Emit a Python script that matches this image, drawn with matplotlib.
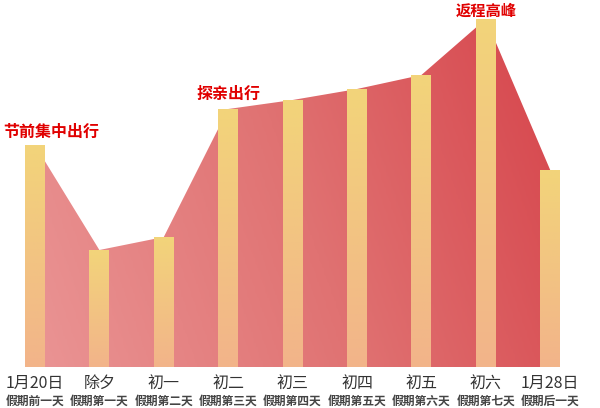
import matplotlib.pyplot as plt
import numpy as np
from matplotlib.colors import LinearSegmentedColormap

plt.rcParams['font.family'] = ['Noto Sans CJK SC', 'DejaVu Sans']

days = ['1月20日', '除夕', '初一', '初二', '初三', '初四', '初五', '初六', '1月28日']
notes = ['假期前一天', '假期第一天', '假期第二天', '假期第三天', '假期第四天',
         '假期第五天', '假期第六天', '假期第七天', '假期后一天']
values = [222, 117, 130, 258, 267, 278, 292, 348, 197]
callouts = {0: '节前集中出行', 3: '探亲出行', 7: '返程高峰'}

x = np.arange(len(days))
fig = plt.figure(figsize=(6, 4.08), dpi=100)
ax = fig.add_axes([0, 41 / 408, 1, 367 / 408])
ax.axis('off')

# area with gradient, clipped to the line's fill
poly = ax.fill_between(x, values, 0, color='none', lw=0)
area_cmap = LinearSegmentedColormap.from_list('area', ['#ea9494', '#e07272', '#d6444b'])
gx, gy = np.meshgrid(np.linspace(0, 1, 300), np.linspace(0, 1, 100))
grad = 0.8 * gx + 0.2 * (1 - gy)
im = ax.imshow(grad, cmap=area_cmap, extent=[x[0], x[-1], 0, 367],
               origin='upper', aspect='auto', zorder=1)
im.set_clip_path(poly.get_paths()[0], transform=ax.transData)

# bars with vertical gradient
bar_cmap = LinearSegmentedColormap.from_list('bar', ['#f2b48a', '#f2d47a'])
w = 0.31
col = np.linspace(0, 1, 100).reshape(-1, 1)
for xi, v in zip(x, values):
    ax.imshow(col, cmap=bar_cmap, extent=[xi - w / 2, xi + w / 2, 0, v],
              origin='lower', aspect='auto', zorder=2)

ax.set_xlim(-0.543, 8.773)
ax.set_ylim(0, 367)

for i, txt in callouts.items():
    if i == 0:
        ax.annotate(txt, (i - 0.5, values[i]), xytext=(0, 4), textcoords='offset points',
                    ha='left', va='bottom', color='#e00000', fontsize=11.5, fontweight='bold')
    elif i == 7:
        ax.annotate(txt, (i, values[i]), xytext=(0, 0), textcoords='offset points',
                    ha='center', va='bottom', color='#e00000', fontsize=11, fontweight='bold')
    else:
        ax.annotate(txt, (i, values[i]), xytext=(0, 5), textcoords='offset points',
                    ha='center', va='bottom', color='#e00000', fontsize=11.5, fontweight='bold')

for xi, d, n in zip(x, days, notes):
    ax.annotate(d, (xi, 0), xycoords=('data', 'axes fraction'), xytext=(0, -11.5),
                textcoords='offset points', ha='center', va='center',
                color='#333333', fontsize=11.5, annotation_clip=False)
    ax.annotate(n, (xi, 0), xycoords=('data', 'axes fraction'), xytext=(0, -24.5),
                textcoords='offset points', ha='center', va='center',
                color='#444444', fontsize=8.5, fontweight='bold', annotation_clip=False)

fig.savefig('out.png', dpi=100, transparent=True)
